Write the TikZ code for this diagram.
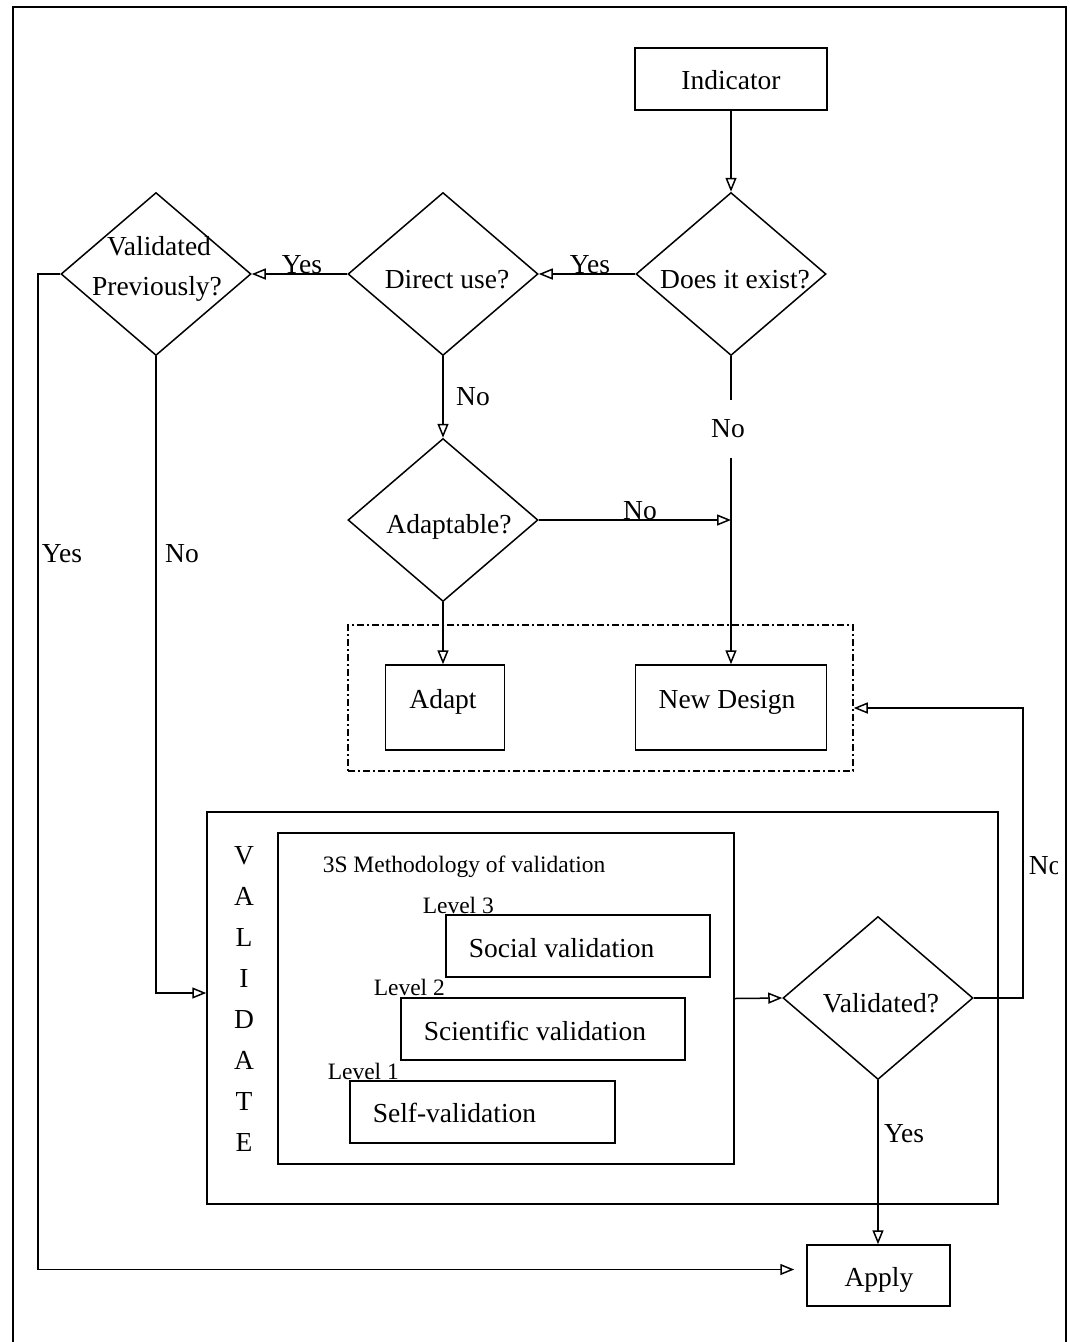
\documentclass[tikz,border=0pt]{standalone}
\usepackage{fontspec}
\setmainfont{Liberation Serif}
\usetikzlibrary{shapes.geometric,arrows.meta}
\begin{document}
\begin{tikzpicture}[x=1pt,y=-1pt,line width=1.5pt,
  txt/.style={font=\fontsize{27.5}{33}\selectfont,inner sep=0pt},
  sml/.style={font=\fontsize{23.5}{28}\selectfont,inner sep=0pt},
  box/.style={draw,inner sep=0pt},
  dia/.style={draw,diamond,inner sep=0pt,minimum width=190pt,minimum height=163pt},
  arr/.style={-{Triangle[open,length=14pt,width=11pt]}},
  dashdot/.style={dash pattern=on 7pt off 3pt on 2pt off 3pt}]
\useasboundingbox (0,0) rectangle (1069,1342);
% outer frame
\draw[line width=1.2pt] (13,1342) -- (13,7) -- (1066,7) -- (1066,1342);

% nodes
\node[box,minimum width=192pt,minimum height=62pt] (ind) at (731,79) {};
\node[txt,anchor=base] (tind) at (731,89) {Indicator};

\node[dia] (de) at (731,274) {};
\node[txt,anchor=base] (tde) at (735,288) {Does it exist?};
\node[dia] (du) at (443,274) {};
\node[txt,anchor=base] (tdu) at (447,288) {Direct use?};
\node[dia] (vp) at (156,274) {};
\node[txt,anchor=base] (tvp1) at (159,255) {Validated};
\node[txt,anchor=base] (tvp2) at (157,295) {Previously?};
\node[dia] (ad) at (443,520) {};
\node[txt,anchor=base] (tad) at (449,533) {Adaptable?};

\node[draw,dashdot,inner sep=0pt,minimum width=505pt,minimum height=146pt] (grp) at (600.5,698) {};
\node[box,minimum width=119pt,minimum height=85pt] (adapt) at (445,707.5) {};
\node[txt,anchor=base] (tadapt) at (443,708) {Adapt};
\node[box,minimum width=191pt,minimum height=85pt] (nd) at (731,707.5) {};
\node[txt,anchor=base] (tnd) at (727,708) {New Design};

\node[box,minimum width=791pt,minimum height=392pt] (val) at (602.5,1008) {};
\foreach \l [count=\i from 0] in {V,A,L,I,D,A,T,E}
  \node[txt,anchor=base] (v\i) at (244,864+41.1*\i) {\l};
\node[box,minimum width=456pt,minimum height=331pt] (meth) at (506,998.5) {};
\node[sml,anchor=base west] (tmeth) at (322,872) {3S Methodology of validation};
\node[box,minimum width=264pt,minimum height=62pt] (soc) at (578,946) {};
\node[txt,anchor=base west] (tsoc) at (468,957) {Social validation};
\node[sml,anchor=base west] (l3) at (422,913) {Level 3};
\node[box,minimum width=284pt,minimum height=62pt] (sci) at (543,1029) {};
\node[txt,anchor=base west] (tsci) at (423,1040) {Scientific validation};
\node[sml,anchor=base west] (l2) at (373,995) {Level 2};
\node[box,minimum width=265pt,minimum height=62pt] (self) at (482.5,1112) {};
\node[txt,anchor=base west] (tself) at (372,1122) {Self-validation};
\node[sml,anchor=base west] (l1) at (327,1079) {Level 1};

\node[dia] (va) at (878,998) {};
\node[txt,anchor=base] (tva) at (881,1012) {Validated?};
\node[box,minimum width=143pt,minimum height=61pt] (apply) at (878.5,1275.5) {};
\node[txt,anchor=base] (tapply) at (879,1286) {Apply};

\coordinate (j1) at (de.south |- ad.east);

% connectors
\draw[arr] (ind.south) -- (de.north);
\draw[arr] (de.west) -- (du.east);
\node[txt,anchor=base] (y1) at (590,273) {Yes};
\draw[arr] (du.west) -- (vp.east);
\node[txt,anchor=base] (y2) at (302,273) {Yes};
\draw[arr] (du.south) -- (ad.north);
\node[txt,anchor=base] (n1) at (473,405) {No};
\draw[arr] (ad.east) -- (j1);
\node[txt,anchor=base] (n2) at (640,519) {No};
\draw (de.south) -- (731,400);
\draw[arr] (731,458) -- (nd.north);
\node[txt,anchor=base] (n3) at (728,437) {No};
\draw[arr] (ad.south) -- (ad.south |- adapt.north);
\draw[arr] (meth.east) -- (va.west);
\draw[arr] (va.east) -- ++(49,0) |- ([yshift=-10pt]grp.east);
\begin{scope}
  \clip (1020,840) rectangle (1057,900);
  \node[txt,anchor=base west] (n4) at (1028,874) {No};
\end{scope}
\draw[arr] (va.south) -- (va.south |- apply.north);
\node[txt,anchor=base] (y3) at (904,1142) {Yes};
\draw[arr] (vp.south) |- ([yshift=15pt]val.west);
\node[txt,anchor=base] (n5) at (182,562) {No};
\draw[arr,shorten >=12pt] (vp.west) -- (38,274) |- ([yshift=6pt]apply.west);
\node[txt,anchor=base] (y4) at (62,562) {Yes};
\end{tikzpicture}
\end{document}
